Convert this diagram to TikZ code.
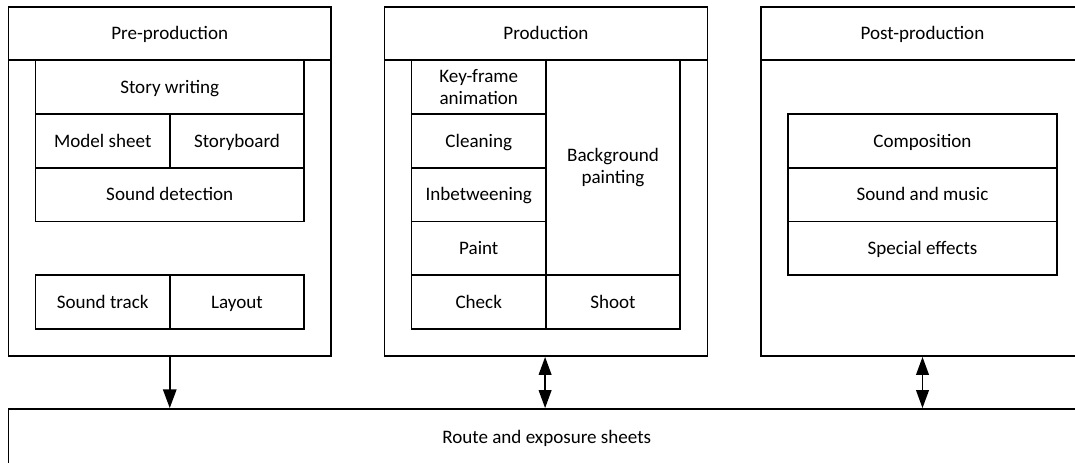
\documentclass[tikz,border=0pt]{standalone}
\usepackage{fontspec}
\setmainfont{Carlito}
\usetikzlibrary{fit,arrows.meta}
\begin{document}
\begin{tikzpicture}[x=0.75pt,y=-0.75pt,
  txt/.style={align=center, inner sep=0pt,
    font=\fontsize{14.3pt}{16.3pt}\selectfont},
  cell/.style={draw, line width=1.35pt, inner sep=0pt,
    label={[txt, text height=12.2pt, text depth=3pt]center:#1}},
  cell/.default={},
  twoline/.style={draw, line width=1.35pt, inner sep=0pt,
    label={[txt]center:#1}},
  flow/.style={line width=1.35pt, -{Triangle[length=14pt,width=10pt]}},
  both/.style={line width=1.35pt, {Triangle[length=13.5pt,width=9.5pt]}-{Triangle[length=13.5pt,width=9.5pt]}}]
\useasboundingbox (0,0) rectangle (1075,462);
\clip (0,0) rectangle (1075,462);

% Pre-production column
\node[cell, fit={(8.5,7)(331,356)}] (pre) {};
\node[cell=Pre-production, fit={(8.5,7)(331,60)}] (prehead) {};
\node[cell=Story writing, fit={(35.5,60)(304,114)}] (story) {};
\node[cell=Model sheet, fit={(35.5,114)(170,168)}] (model) {};
\node[cell=Storyboard, fit={(170,114)(304,168)}] (board) {};
\node[cell=Sound detection, fit={(35.5,168)(304,221.5)}] (detect) {};
\node[cell=Sound track, fit={(35.5,275)(170,329)}] (track) {};
\node[cell=Layout, fit={(170,275)(304,329)}] (layout) {};

% Production column
\node[cell, fit={(384.5,7)(707.5,356)}] (prod) {};
\node[cell=Production, fit={(384.5,7)(707.5,60)}] (prodhead) {};
\node[twoline={Key-frame\\animation}, fit={(411.5,60)(546,114)}] (key) {};
\node[cell=Cleaning, fit={(411.5,114)(546,168)}] (clean) {};
\node[cell=Inbetweening, fit={(411.5,168)(546,221.5)}] (inbet) {};
\node[cell=Paint, fit={(411.5,221.5)(546,275)}] (paint) {};
\node[twoline={Background\\painting}, fit={(546,60)(680,275)}] (bg) {};
\node[cell=Check, fit={(411.5,275)(546,329)}] (check) {};
\node[cell=Shoot, fit={(546,275)(680,329)}] (shoot) {};

% Post-production column
\node[cell, fit={(761,7)(1084,356)}] (post) {};
\node[cell=Post-production, fit={(761,7)(1084,60)}] (posthead) {};
\node[cell=Composition, fit={(788,114)(1057,168)}] (comp) {};
\node[cell=Sound and music, fit={(788,168)(1057,221.5)}] (music) {};
\node[cell=Special effects, fit={(788,221.5)(1057,275)}] (sfx) {};

% Shared sheets
\node[cell=Route and exposure sheets, fit={(8.5,409)(1085,466)}] (sheets) {};

% Connectors
\draw[flow] (pre.south) -- (pre.south |- sheets.north);
\draw[both] (prod.south -| bg.west) -- (bg.west |- sheets.north);
\draw[both] (post.south) -- (post.south |- sheets.north);
\end{tikzpicture}
\end{document}
